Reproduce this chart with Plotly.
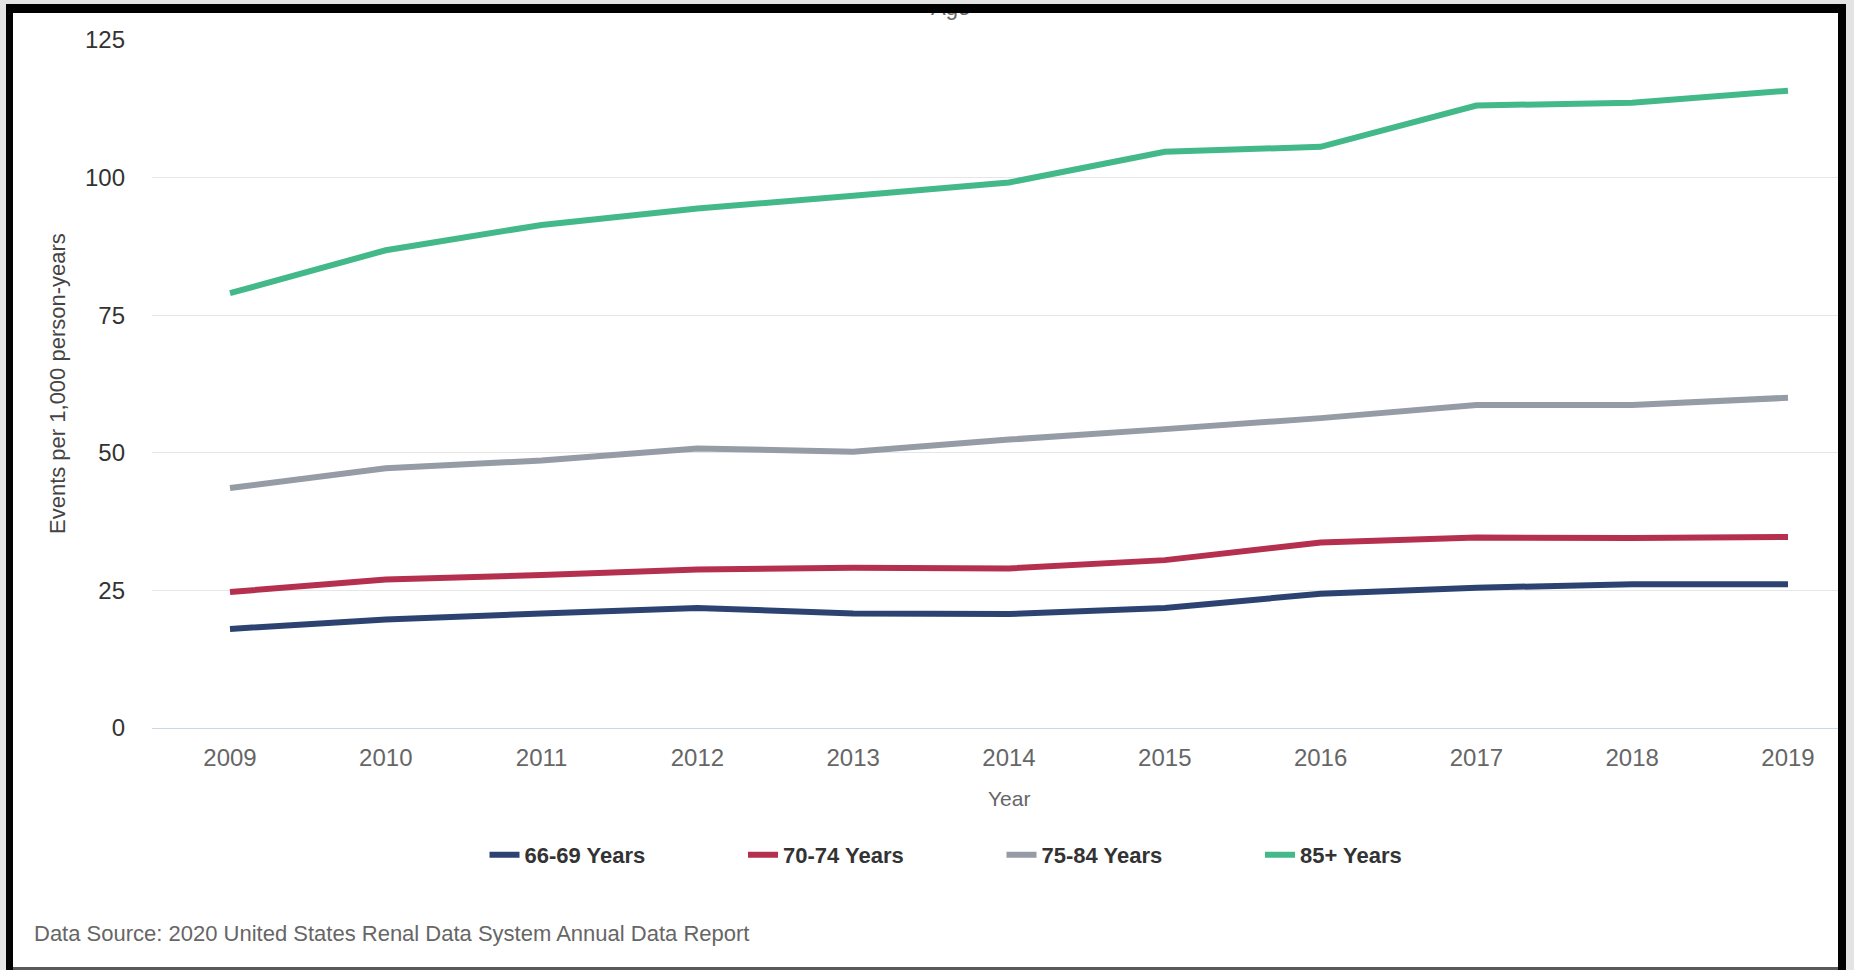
import plotly.graph_objects as go

# ---------------- data ----------------
years = [2009, 2010, 2011, 2012, 2013, 2014, 2015, 2016, 2017, 2018, 2019]
age_66_69 = [18.0, 19.7, 20.8, 21.8, 20.8, 20.7, 21.8, 24.4, 25.5, 26.1, 26.1]
age_70_74 = [24.7, 27.0, 27.8, 28.8, 29.1, 29.0, 30.5, 33.7, 34.6, 34.5, 34.7]
age_75_84 = [43.6, 47.2, 48.6, 50.8, 50.2, 52.4, 54.3, 56.3, 58.7, 58.7, 60.0]
age_85_plus = [79.0, 86.8, 91.4, 94.4, 96.7, 99.1, 104.7, 105.6, 113.1, 113.6, 115.8]
series_names = ["66-69 Years", "70-74 Years", "75-84 Years", "85+ Years"]
y_ticks = [0, 25, 50, 75, 100, 125]
title_text = "Age"
x_title = "Year"
y_title = "Events per 1,000 person-years"
source_text = "Data Source: 2020 United States Renal Data System Annual Data Report"

# ---------------- styling / layout ----------------
colors = ["#2c4372", "#b5304e", "#959ca5", "#43b98a"]
W, H = 1854, 970
L, R, T, B = 152, 1838, 40, 728
PW, PH = R - L, B - T
FONT = "Liberation Sans, Arial, Helvetica, sans-serif"


def px(xp):
    return (xp - L) / PW


def py(yp):
    return (B - yp) / PH


fig = go.Figure()
for name, vals, col in zip(series_names, [age_66_69, age_70_74, age_75_84, age_85_plus], colors):
    fig.add_trace(go.Scatter(x=years, y=vals, name=name, mode="lines",
                             line=dict(color=col, width=6)))

year_px = 155.8
x0 = 2009 - (230 - L) / year_px
x1 = 2009 + (R - 230) / year_px

shapes = [
    dict(type="rect", xref="paper", yref="paper", x0=px(6), x1=px(1846), y0=py(4), y1=py(970),
         fillcolor="#000000", line=dict(width=0), layer="below"),
    dict(type="rect", xref="paper", yref="paper", x0=px(13), x1=px(1838), y0=py(13), y1=py(967),
         fillcolor="#ffffff", line=dict(width=0), layer="below"),
    dict(type="rect", xref="paper", yref="paper", x0=px(13), x1=px(1838), y0=py(967), y1=py(970),
         fillcolor="#5a5a5a", line=dict(width=0), layer="below"),
]

annotations = [
    # partly hidden chart title
    dict(text=title_text, xref="paper", yref="paper", x=px(950), y=py(8), xanchor="center",
         yanchor="middle", showarrow=False, font=dict(family=FONT, size=22, color="#666666")),
    # frame pieces that sit over the title
    dict(text=" ", xref="paper", yref="paper", x=px(880), y=py(4), xanchor="left", yanchor="top",
         width=140, height=9, bgcolor="#000000", borderpad=0, borderwidth=0, showarrow=False),
    dict(text=" ", xref="paper", yref="paper", x=px(880), y=py(0), xanchor="left", yanchor="top",
         width=140, height=4, bgcolor="#e3e3e3", borderpad=0, borderwidth=0, showarrow=False),
    # axis titles
    dict(text=y_title, xref="paper", yref="paper", x=px(57), y=py(384), xanchor="center",
         yanchor="middle", textangle=-90, showarrow=False,
         font=dict(family=FONT, size=22, color="#444444")),
    dict(text=x_title, xref="paper", yref="paper", x=px(1009), y=py(798), xanchor="center",
         yanchor="middle", showarrow=False, font=dict(family=FONT, size=21, color="#666666")),
    # source note
    dict(text=source_text, xref="paper", yref="paper", x=px(32), y=py(933), xanchor="left",
         yanchor="middle", showarrow=False, font=dict(family=FONT, size=22, color="#666666")),
]

fig.update_layout(
    template="none",
    width=W, height=H,
    margin=dict(l=L, r=W - R, t=T, b=H - B, pad=0, autoexpand=False),
    paper_bgcolor="#e3e3e3",
    plot_bgcolor="rgba(0,0,0,0)",
    font=dict(family=FONT),
    showlegend=True,
    legend=dict(orientation="h", x=px(484.5), xanchor="left", y=py(855), yanchor="middle",
                font=dict(family=FONT, size=22, color="#333333", weight="bold"),
                entrywidth=213.5, entrywidthmode="pixels", itemwidth=30,
                bgcolor="rgba(0,0,0,0)", borderwidth=0, traceorder="normal"),
    xaxis=dict(range=[x0, x1], tickmode="array", tickvals=years, ticktext=[str(y) for y in years],
               showgrid=False, zeroline=False, showline=True, linecolor="#ccd6eb", linewidth=1,
               ticks="", ticklabelstandoff=8, automargin=False,
               tickfont=dict(family=FONT, size=24, color="#666666")),
    yaxis=dict(range=[0, 125], tickmode="array", tickvals=y_ticks,
               showgrid=True, gridcolor="#e6e6e6", gridwidth=1, zeroline=False, showline=False,
               ticks="", ticklabelstandoff=26, automargin=False,
               tickfont=dict(family=FONT, size=24, color="#333333")),
    shapes=shapes,
    annotations=annotations,
)

fig.write_html("out.html", config={"displayModeBar": False},
               post_script="document.body.style.margin='0';document.body.style.overflow='hidden';")
